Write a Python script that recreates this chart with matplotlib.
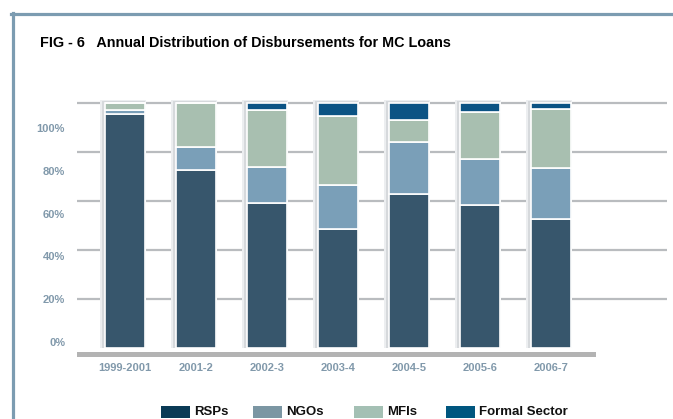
import matplotlib
matplotlib.use("Agg")
import matplotlib.pyplot as plt
from matplotlib.patches import Rectangle
from matplotlib.lines import Line2D

plt.rcParams['font.family'] = ['Liberation Sans', 'DejaVu Sans']

# Share of disbursements (%) by lender type
years = ['1999-2001', '2001-2', '2002-3', '2003-4', '2004-5', '2005-6', '2006-7']
rsps = [95.5, 72.5, 59.0, 48.5, 63.0, 58.5, 52.5]
ngos = [1.5, 9.5, 15.0, 18.0, 21.0, 18.5, 21.0]
mfis = [3.0, 18.0, 23.0, 28.0, 9.0, 19.5, 24.0]
formal = [0.0, 0.0, 3.0, 5.5, 7.0, 3.5, 2.5]

series_names = ['RSPs', 'NGOs', 'MFIs', 'Formal Sector']
bar_colors = ['#37566c', '#7a9fb8', '#a8bfb0', '#0b5384']
legend_colors = ['#0a3a55', '#7b96a3', '#a4c0b4', '#00567f']

grid_levels = [20, 40, 60, 80, 100]
tick_labels = ['0%', '20%', '40%', '60%', '80%', '100%']
tick_positions = [2.6, 20.0, 37.4, 54.8, 72.2, 89.6]

W, H = 673, 419
fig = plt.figure(figsize=(W / 100, H / 100), dpi=100)
fig.patch.set_facecolor('white')

# axes placement in pixels
ax_l, ax_r, ax_t, ax_b = 77, 667, 100, 358
ax = fig.add_axes([ax_l / W, 1 - ax_b / H, (ax_r - ax_l) / W, (ax_b - ax_t) / H])
ax.set_xlim(-0.676, 7.63)
ax.set_ylim(-4.08, 101.2)
for s in ax.spines.values():
    s.set_visible(False)

x = list(range(len(years)))
bw = 0.563
px = 1 / 71.0  # one pixel in x data units

# horizontal grid lines
ax.hlines(grid_levels, -0.676, 7.63, colors='#b9bcbf', linewidth=1.6, zorder=0)
# thick baseline
ax.add_patch(Rectangle((-0.676, -3.7), 6.63 + 0.676, 2.1, facecolor='#b3b3b3',
                       edgecolor='none', zorder=1))

# soft shadow behind each bar
for xi in x:
    ax.add_patch(Rectangle((xi - bw / 2 - 5 * px, 0), bw + 6 * px, 101.0,
                           facecolor='#eceef0', edgecolor='none', zorder=1))
    ax.add_patch(Rectangle((xi - bw / 2 - 3 * px, 0), bw + 3 * px, 100.6,
                           facecolor='#d6d9dc', edgecolor='none', zorder=1))

bottom = [0.0] * len(years)
for vals, col in zip([rsps, ngos, mfis, formal], bar_colors):
    ax.bar(x, vals, bw, bottom=bottom, color=col, edgecolor='white',
           linewidth=1.2, zorder=2)
    bottom = [b + v for b, v in zip(bottom, vals)]

ax.set_xticks(x)
ax.set_xticklabels(years, fontsize=8, fontweight='bold', color='#8199ab')
ax.set_yticks(tick_positions)
ax.set_yticklabels(tick_labels, fontsize=8, fontweight='bold', color='#8199ab')
ax.tick_params(axis='both', length=0)
ax.tick_params(axis='y', pad=8.6)
ax.tick_params(axis='x', pad=3.5)

# frame lines
frame_col = '#7c9cb1'
fig.add_artist(Line2D([11 / W, 1], [1 - 14 / H, 1 - 14 / H], color=frame_col,
                      linewidth=2.3, transform=fig.transFigure))
fig.add_artist(Line2D([12.5 / W, 12.5 / W], [1 - 13 / H, 0], color=frame_col,
                      linewidth=2.3, transform=fig.transFigure))

fig.text(40 / W, 1 - 43 / H, 'FIG - 6   Annual Distribution of Disbursements for MC Loans',
         fontsize=10.4, fontweight='bold', color='black', ha='left', va='center')

# legend row
legend_x = [161, 253, 354, 446]
for lx, name, col in zip(legend_x, series_names, legend_colors):
    fig.add_artist(Rectangle((lx / W, 1 - 418 / H), 29 / W, 12 / H, facecolor=col,
                             edgecolor='none', transform=fig.transFigure))
    fig.text((lx + 33) / W, 1 - 412 / H, name, fontsize=9.5, fontweight='bold',
             color='#111111', ha='left', va='center')

fig.savefig('out.png', dpi=100, facecolor='white')
